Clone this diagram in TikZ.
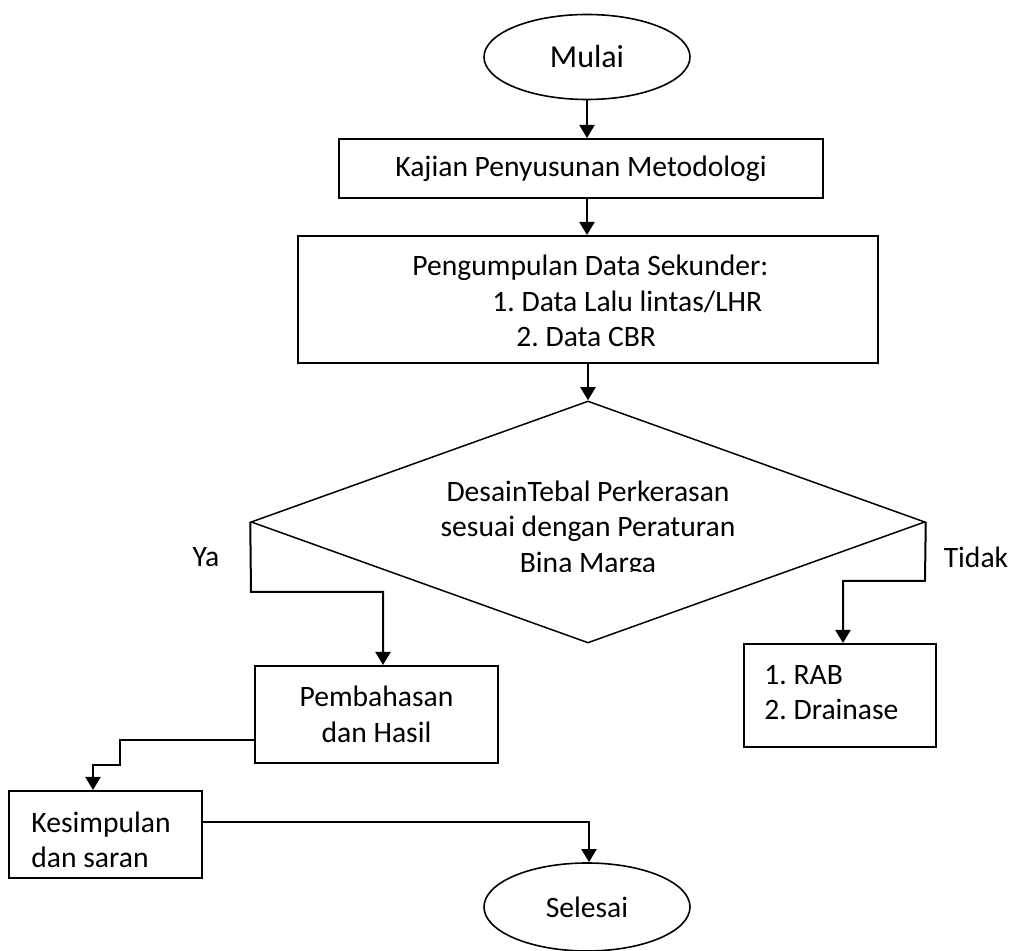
\documentclass[tikz,border=0pt]{standalone}
\usepackage{fontspec}
\setmainfont{Carlito}
\usetikzlibrary{shapes.geometric,arrows.meta}
\frenchspacing
\begin{document}
\begin{tikzpicture}[x=0.5pt,y=-0.5pt,
  every node/.style={font=\frenchspacing\fontsize{14.8}{17.75}\selectfont},
  box/.style={draw, line width=1pt, rectangle, inner sep=0pt},
  term/.style={draw, line width=0.8pt, ellipse, inner sep=0pt, minimum width=103pt},
  conn/.style={line width=1pt, -{Triangle[width=7.5pt,length=6.5pt]}},
  txt/.style={inner sep=0pt, align=left}]
\useasboundingbox (0,0) rectangle (1014,951);
% terminals
\node[term, minimum height=42.5pt, font=\fontsize{16}{19}\selectfont] (mulai) at (587,57) {Mulai};
\node[term, minimum height=44pt] (selesai) at (587,907) {Selesai};
% process boxes
\node[box, minimum width=242pt, minimum height=29.5pt] (kajian) at (581,168.5) {Kajian Penyusunan Metodologi};
\node[box, minimum width=290pt, minimum height=63.5pt] (kumpul) at (588,299.5) {};
\node[txt, anchor=west] (kumpultext) at (412,301) {Pengumpulan Data Sekunder:\\\hspace*{40pt}1. Data Lalu lintas/LHR\\\hspace*{52pt}2. Data CBR};
% decision
\node[draw, diamond, line width=0.75pt, minimum width=337pt, minimum height=121pt, inner sep=0pt] (desain) at (588,522) {};
\begin{scope}
  \clip (300,460) rectangle (880,572);
  \node[inner sep=0pt, align=center] (desaintext) at (588,529) {DesainTebal Perkerasan\\sesuai dengan Peraturan\\Bina Marga};
\end{scope}
\node (ya) at (206,557) {Ya};
\node (tidak) at (976,557) {Tidak};
% results
\node[box, align=center, minimum width=121.5pt, minimum height=48.5pt] (bahas) at (376.5,714.5) {Pembahasan\\dan Hasil};
\node[box, minimum width=96pt, minimum height=51.5pt] (rab) at (840,695.5) {};
\node[txt, anchor=west] (rabtext) at (764,692.5) {1. RAB\\2. Drainase};
\node[box, minimum width=96.5pt, minimum height=43.5pt] (kesim) at (105.5,834.5) {};
\node[txt, anchor=west] (kesimtext) at (31,840) {Kesimpulan\\dan saran};
% connectors
\draw[conn] (mulai.south) -- (mulai.south |- kajian.north);
\draw[conn] (kajian.south -| mulai.south) -- (kumpul.north -| mulai.south);
\draw[conn] (kumpul.south) -- (desain.north);
\coordinate (yaturn) at (251,592);
\draw[conn] (desain.west) -- (yaturn) -| ([xshift=3.25pt]bahas.north);
\coordinate (tdturn) at (925,581);
\draw[conn] (desain.east) -- (tdturn) -| ([xshift=1.5pt]rab.north);
\coordinate (bout) at ([yshift=-12.75pt]bahas.west);
\coordinate (bstep) at (120,765);
\draw[conn] (bout) -| (bstep) -| ([xshift=-6.25pt]kesim.north);
\draw[conn] ([yshift=6.25pt]kesim.east) -| ([xshift=1pt]selesai.north);
\end{tikzpicture}
\end{document}
